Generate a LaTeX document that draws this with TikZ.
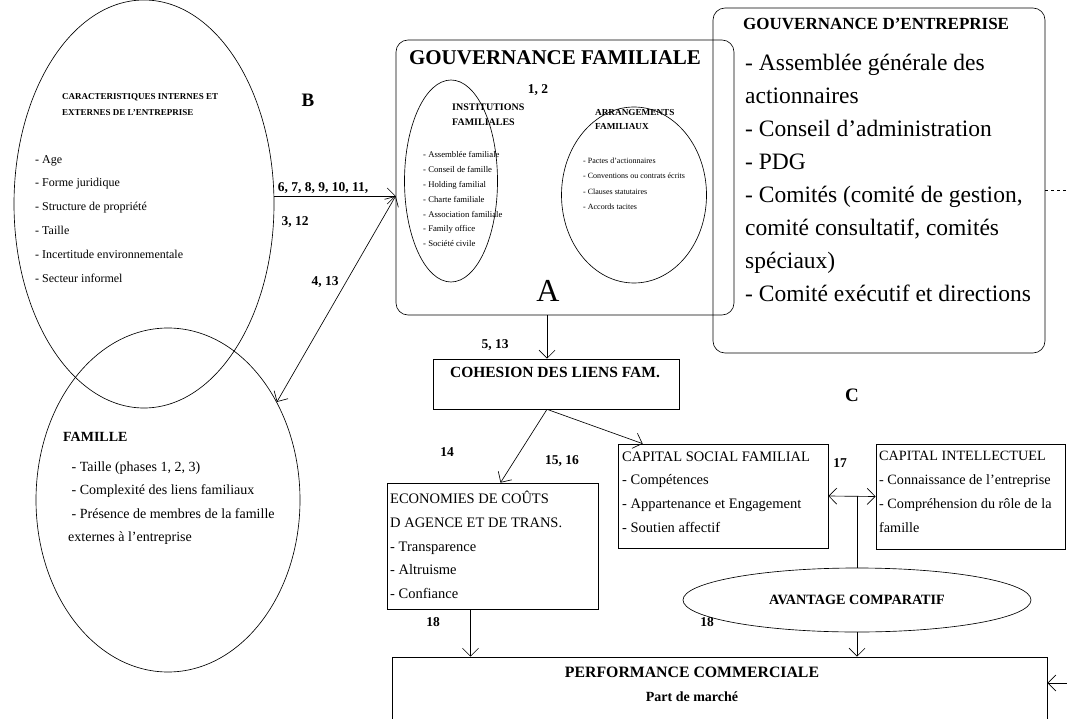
\documentclass[tikz,border=0pt]{standalone}
\usepackage{fontspec}
\setmainfont{Liberation Serif}
\usetikzlibrary{shapes.geometric,arrows.meta}

\begin{document}
\begin{tikzpicture}[x=1pt,y=-1pt,
  trait/.style={line width=0.65pt},
  boite/.style={draw,line width=0.65pt,inner sep=0pt},
  arrondi/.style={boite,rounded corners=12pt},
  ovale/.style={draw,ellipse,line width=0.65pt,inner sep=0pt},
  fleche/.style={trait,-{Straight Barb[length=8pt,width=16pt]}},
  bifleche/.style={trait,{Straight Barb[length=8pt,width=16pt]}-{Straight Barb[length=8pt,width=16pt]}},
  texte/.style={anchor=north west,inner sep=0pt,align=left},
  numero/.style={inner sep=0pt,font=\fontsize{13.5}{15}\selectfont\bfseries}]

% Cadre
\clip (0,0) rectangle (1067,719);

% Ellipses B
\node[ovale,minimum width=260pt,minimum height=408pt] (carac) at (144,204) {};
\node[ovale,minimum width=264pt,minimum height=344pt] (famille) at (168,500) {};
\node[texte,font=\fontsize{9}{16}\selectfont\bfseries] (caractitre) at (62,93.4)
  {CARACTERISTIQUES INTERNES ET\\EXTERNES DE L'ENTREPRISE};
\node[texte,font=\fontsize{12}{23.8}\selectfont] (caracliste) at (35,155)
  {- Age\\- Forme juridique\\- Structure de propriété\\- Taille\\- Incertitude environnementale\\- Secteur informel};
\node[texte,font=\fontsize{14}{16}\selectfont\bfseries] (familletitre) at (63,432.4) {FAMILLE};
\node[texte,font=\fontsize{14}{23.5}\selectfont] (familleliste) at (68,461.4)
  {\ - Taille (phases 1, 2, 3)\\\ - Complexité des liens familiaux\\\ - Présence de membres de la famille\\externes à l'entreprise};
\node[font=\fontsize{19}{21}\selectfont\bfseries] (lettreb) at (308,100) {B};

% Gouvernance familiale (A)
\node[arrondi,minimum width=338pt,minimum height=275pt] (gf) at (565,177.5) {};
\node[font=\fontsize{21}{24}\selectfont\bfseries] (gftitre) at (555,58) {GOUVERNANCE FAMILIALE};
\node[numero] (n12) at (538,90) {1, 2};
\node[ovale,minimum width=93pt,minimum height=202pt] (inst) at (451,181) {};
\node[ovale,minimum width=145pt,minimum height=176pt] (arr) at (634,195) {};
\node[texte,font=\fontsize{10}{15}\selectfont\bfseries] (insttitre) at (452,104) {INSTITUTIONS\\FAMILIALES};
\node[texte,font=\fontsize{8.7}{14.8}\selectfont] (instliste) at (423,151.5)
  {- Assemblée familiale\\- Conseil de famille\\- Holding familial\\- Charte familiale\\- Association familiale\\- Family office\\- Société civile};
\node[texte,font=\fontsize{9.2}{14}\selectfont\bfseries] (arrtitre) at (595,109.3) {ARRANGEMENTS\\FAMILIAUX};
\node[texte,font=\fontsize{8}{15.3}\selectfont] (arrliste) at (583,157.8)
  {- Pactes d'actionnaires\\- Conventions ou contrats écrits\\- Clauses statutaires\\- Accords tacites};
\node[font=\fontsize{32}{34}\selectfont] (lettrea) at (548,291) {A};

% Gouvernance d'entreprise
\node[arrondi,minimum width=332pt,minimum height=345pt] (ge) at (879,180.5) {};
\node[texte,font=\fontsize{17}{20}\selectfont\bfseries] (getitre) at (743,18.2) {GOUVERNANCE D'ENTREPRISE};
\node[texte,font=\fontsize{23.5}{33}\selectfont] (geliste) at (745,53.6)
  {- Assemblée générale des\\actionnaires\\- Conseil d'administration\\- PDG\\- Comités (comité de gestion,\\comité consultatif, comités\\spéciaux)\\- Comité exécutif et directions};

% Cohesion et capitaux (C)
\node[boite,minimum width=246pt,minimum height=50pt] (coh) at (556,384) {};
\node[font=\fontsize{15.5}{18}\selectfont\bfseries] (cohtitre) at (555,372) {COHESION DES LIENS FAM.};
\node[boite,minimum width=211pt,minimum height=126pt] (eco) at (492.5,546) {};
\node[texte,font=\fontsize{14.5}{23.7}\selectfont] (ecoliste) at (390,491.2)
  {ECONOMIES DE COÛTS\\D AGENCE ET DE TRANS.\\- Transparence\\- Altruisme\\- Confiance};
\node[boite,minimum width=210pt,minimum height=104pt] (csf) at (723,496) {};
\node[texte,font=\fontsize{14.5}{23.7}\selectfont] (csfliste) at (622,451.2)
  {CAPITAL SOCIAL FAMILIAL\\- Compétences\\- Appartenance et Engagement\\- Soutien affectif};
\node[boite,minimum width=189pt,minimum height=105pt] (ci) at (970.5,496.5) {};
\node[texte,font=\fontsize{14.2}{23.7}\selectfont] (ciliste) at (879,451.3)
  {CAPITAL INTELLECTUEL\\- Connaissance de l'entreprise\\- Compréhension du rôle de la\\famille};
\node[font=\fontsize{19}{21}\selectfont\bfseries] (lettrec) at (852,395) {C};
\node[ovale,minimum width=348pt,minimum height=64pt,font=\fontsize{14.2}{16}\selectfont\bfseries] (av) at (857,600) {AVANTAGE COMPARATIF};

% Performance
\node[boite,minimum width=655pt,minimum height=73pt] (perf) at (719.5,693.5) {};
\node[font=\fontsize{15.8}{18}\selectfont\bfseries] (perftitre) at (692,672) {PERFORMANCE COMMERCIALE};
\node[font=\fontsize{14}{16}\selectfont\bfseries] (perfpart) at (692,697) {Part de marché};

% Numeros
\node[numero] (n611) at (323,188) {6, 7, 8, 9, 10, 11,};
\node[numero] (n312) at (295,222) {3, 12};
\node[numero] (n413) at (325,282) {4, 13};
\node[numero] (n513) at (495,345) {5, 13};
\node[numero] (n14) at (447,452) {14};
\node[numero] (n1516) at (562,461) {15, 16};
\node[numero] (n17) at (840,463) {17};
\node[numero] (n18a) at (433,622) {18};
\node[numero] (n18b) at (707,622) {18};

% Liens
\coordinate (ba) at (gf.west |- 0,196);
\draw[fleche] (carac.east |- ba) -- (ba);
\draw[bifleche] (ba) -- (famille.42);
\coordinate (cohs) at ([xshift=-9pt]coh.south);
\draw[fleche] (cohs |- gf.south) -- (cohs |- coh.north);
\draw[fleche] (cohs) -- ([xshift=8pt]eco.north);
\draw[fleche] (cohs) -- ([xshift=25pt]csf.north west);
\draw[bifleche] (csf.east) -- (ci.west);
\coordinate (j17) at (av.north |- csf.east);
\draw[trait] (av.north) -- (j17);
\draw[fleche] (av.south) -- (av.south |- perf.north);
\draw[fleche] ([xshift=-22pt]eco.south) -- ([xshift=-22pt]eco.south |- perf.north);
\coordinate (bordge) at (1067,190);
\draw[trait,dashed] (ge.east |- bordge) -- (bordge);
\coordinate (bordperf) at (1067,683);
\draw[fleche] (bordperf) -- (bordperf -| perf.east);

\end{tikzpicture}
\end{document}
